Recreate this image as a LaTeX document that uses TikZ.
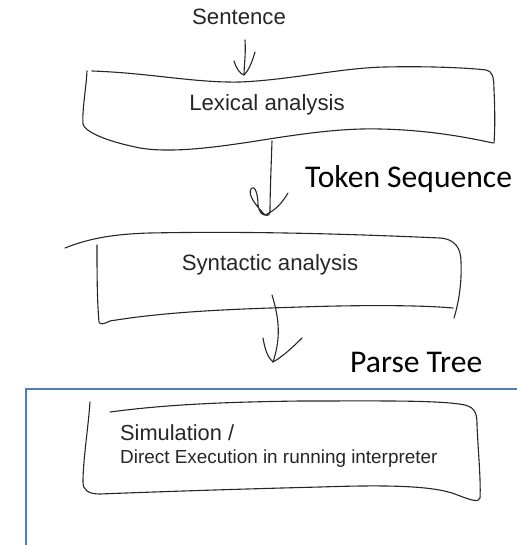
\documentclass[tikz,border=0pt]{standalone}
\usepackage{fontspec}
\setmainfont{Liberation Sans}
\newfontfamily\calibri{Carlito}
\begin{document}
\begin{tikzpicture}[x=1pt,y=-1pt,
  ink/.style={draw=black!85,line width=1.1pt,line cap=round,line join=round},
  stage/.style={font=\fontsize{22.2}{24}\selectfont,text=black!85,inner sep=0pt},
  flowlabel/.style={font=\calibri\fontsize{31.6}{33}\selectfont,text=black,inner sep=0pt,anchor=base west},
  frame/.style={draw={rgb,255:red,74;green,124;blue,200},line width=2.2pt}]
\useasboundingbox (0,0) rectangle (516,545);

% framing panel around the last stage
\draw[frame] (26,560) -- (26,389) -- (530,389);

% texts
\node[stage] (sent) at (239,17) {Sentence};
\node[stage] (lex) at (267,105) {Lexical analysis};
\node[stage] (syn) at (270,265) {Syntactic analysis};
\node[stage,anchor=base west,font=\fontsize{21.8}{24}\selectfont] (sim) at (120,440) {Simulation /};
\node[anchor=base west,inner sep=0pt,text=black!85,font=\fontsize{18.9}{20}\selectfont] (exec) at (120,463) {Direct Execution in running interpreter};
\node[flowlabel] (tok) at (305,188) {Token Sequence};
\node[flowlabel] (tree) at (350,372) {Parse Tree};

% arrow anchor points
\coordinate (a1s) at (245,40);
\coordinate (a1t) at (244,75);
\coordinate (a2s) at (272,141);
\coordinate (a2t) at (265,215);
\coordinate (a3s) at (272,295);
\coordinate (a3t) at (273,362);

% lexical analysis banner
\draw[ink] (92,71) .. controls (150,73) and (195,83) .. (240,82)
  .. controls (290,80) and (340,68) .. (385,67)
  .. controls (430,66) and (470,68) .. (486,70)
  .. controls (492,71) and (494,76) .. (494,90)
  .. controls (495,110) and (495,130) .. (494,143);
\draw[ink] (87,71) .. controls (86,90) and (82,110) .. (83,124)
  .. controls (84,130) and (100,140) .. (140,148)
  .. controls (170,153) and (210,148) .. (250,142)
  .. controls (300,134) and (340,128) .. (380,129)
  .. controls (430,130) and (470,138) .. (493,143);

% syntactic analysis banner
\draw[ink] (65,248) .. controls (90,238) and (115,234) .. (150,233)
  .. controls (250,231) and (350,234) .. (440,238)
  .. controls (455,239) and (461,248) .. (461,262)
  .. controls (462,285) and (458,305) .. (454,318);
\draw[ink] (97,245) .. controls (97,270) and (97,300) .. (99,322)
  .. controls (100,325) and (104,324) .. (110,321)
  .. controls (170,311) and (240,309) .. (300,307)
  .. controls (360,305) and (420,305) .. (453,308);

% simulation banner
\draw[ink] (110,412) .. controls (170,404) and (230,402) .. (300,401)
  .. controls (380,401) and (440,400) .. (465,405)
  .. controls (476,408) and (477,415) .. (477,425)
  .. controls (478,450) and (481,480) .. (480,498)
  .. controls (479,503) and (470,500) .. (455,494)
  .. controls (430,485) and (380,485) .. (320,487)
  .. controls (240,489) and (150,492) .. (100,494)
  .. controls (88,494) and (83,490) .. (83,482)
  .. controls (83,460) and (88,430) .. (90,402);

% arrow: sentence to lexical analysis
\draw[ink] (a1s) .. controls (246,55) and (244,65) .. (a1t);
\draw[ink] (234,61) .. controls (236,68) and (240,74) .. (a1t);
\draw[ink] (255,52) .. controls (252,62) and (249,70) .. (a1t);

% arrow: lexical to syntactic analysis (with loop)
\draw[ink] (a2s) .. controls (271,170) and (270,195) .. (270,212)
  .. controls (269,216) and (266,216) .. (a2t)
  .. controls (258,208) and (247,195) .. (251,189)
  .. controls (255,184) and (258,195) .. (258,205)
  .. controls (259,212) and (262,215) .. (a2t);
\draw[ink] (288,193) .. controls (282,203) and (276,210) .. (a2t);

% arrow: syntactic analysis to simulation
\draw[ink] (a3s) .. controls (278,315) and (282,335) .. (a3t);
\draw[ink] (263,338) .. controls (265,350) and (268,358) .. (a3t);
\draw[ink] (302,338) .. controls (292,348) and (282,357) .. (a3t);
\end{tikzpicture}
\end{document}
